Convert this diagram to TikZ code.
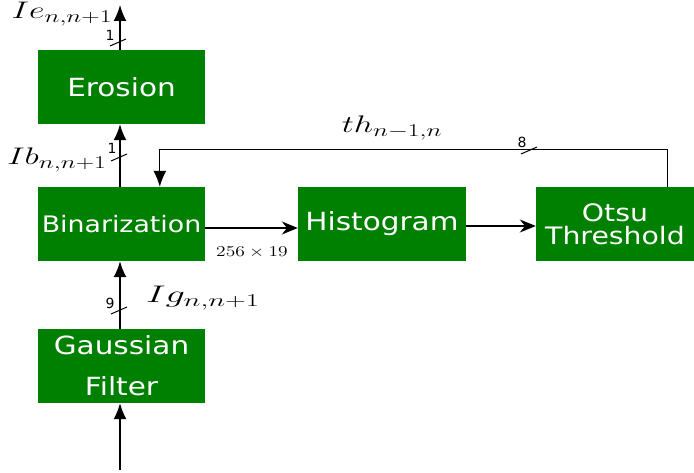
\RequirePackage{fix-cm}
\documentclass[tikz,border=0pt]{standalone}
\usepackage{fontspec}
\usepackage{graphicx}
\setsansfont{DejaVu Sans}
\usetikzlibrary{arrows.meta,calc}
\definecolor{boxgreen}{RGB}{0,128,0}
\DeclareMathSizes{24}{24}{18}{13}
\newcommand{\hs}[1]{\scalebox{1.18}[1]{#1}}
\newcommand{\ms}[1]{\scalebox{1.42}[1]{#1}}
\begin{document}
\begin{tikzpicture}[x=1pt,y=-1pt,
  blk/.style={fill=boxgreen, text=white, minimum height=74pt, inner sep=0pt,
    font=\sffamily\fontsize{25}{30}\selectfont, align=center},
  wire/.style={line width=1.5pt},
  arr/.style={wire,-{Latex[length=16pt,width=13pt]}},
  harr/.style={wire,-{Stealth[length=16pt,width=13pt]}},
  bus/.style={line width=1pt},
  busnum/.style={font=\sffamily\fontsize{14}{16}\selectfont, inner sep=0pt},
  lbl/.style={inner sep=0pt, font=\fontsize{24}{28}\selectfont}]
\useasboundingbox (0,0) rectangle (694,473);

% blocks
\node[blk, minimum width=167pt] (ero) at (121.5,87) {\hs{Erosion}};
\node[blk, minimum width=167pt, font=\sffamily\fontsize{22.7}{27}\selectfont] (bin) at (121.5,224) {\hs{Binarization}};
\node[blk, minimum width=167pt] (gau) at (121.5,366) {\hs{Gaussian}\\[11pt]\hs{Filter}};
\node[blk, minimum width=168pt] (his) at (382,224) {\hs{Histogram}};
\node[blk, minimum width=158pt, font=\sffamily\fontsize{24}{23}\selectfont] (ots) at (615,224) {\hs{Otsu}\\\hs{Threshold}};

% free ends
\coordinate (in) at (120,470);
\coordinate (out) at (120,5);

% vertical chain
\draw[arr] (in) -- (in |- gau.south);
\draw[arr] (gau.north -| in) -- (in |- bin.south);
\draw[arr] (bin.north -| in) -- (in |- ero.south);
\draw[arr] (ero.north -| in) -- (out);

% horizontal chain
\draw[harr] ($(bin.east)+(0,4)$) -- ($(his.west)+(0,4)$);
\draw[harr] ($(his.east)+(0,2)$) -- ($(ots.west)+(0,2)$);

% feedback
\coordinate (fbr) at ($(ots.north west)+(132,0)$);
\coordinate (fbl) at ($(bin.north west)+(122,0)$);
\draw[arr, line width=1.3pt] (fbr) -- ++(0,-37) -| (fbl);

% bus slashes and widths
\draw[bus] (110,46) -- (126,39);
\node[busnum] (n1) at (110,35) {1};
\draw[bus] (111,161) -- (127,154);
\node[busnum] (n2) at (112,148) {1};
\draw[bus] (111,314) -- (127,307);
\node[busnum] (n3) at (110,303) {9};
\draw[bus] (521,154) -- (537,147);
\node[busnum] (n4) at (522,142) {8};

% labels
\node[lbl] (lie) at (62,14) {\ms{$Ie_{n,n+1}$}};
\node[lbl] (lib) at (57,160) {\ms{$Ib_{n,n+1}$}};
\node[lbl] (lig) at (203,298) {\scalebox{1.6}[1]{$Ig_{n,n+1}$}};
\node[lbl] (lth) at (392,128) {\ms{$th_{n-1,n}$}};
\node[lbl, font=\fontsize{15}{18}\selectfont] (lsz) at (252,252) {\scalebox{1.3}[1]{$256\times19$}};
\end{tikzpicture}
\end{document}
